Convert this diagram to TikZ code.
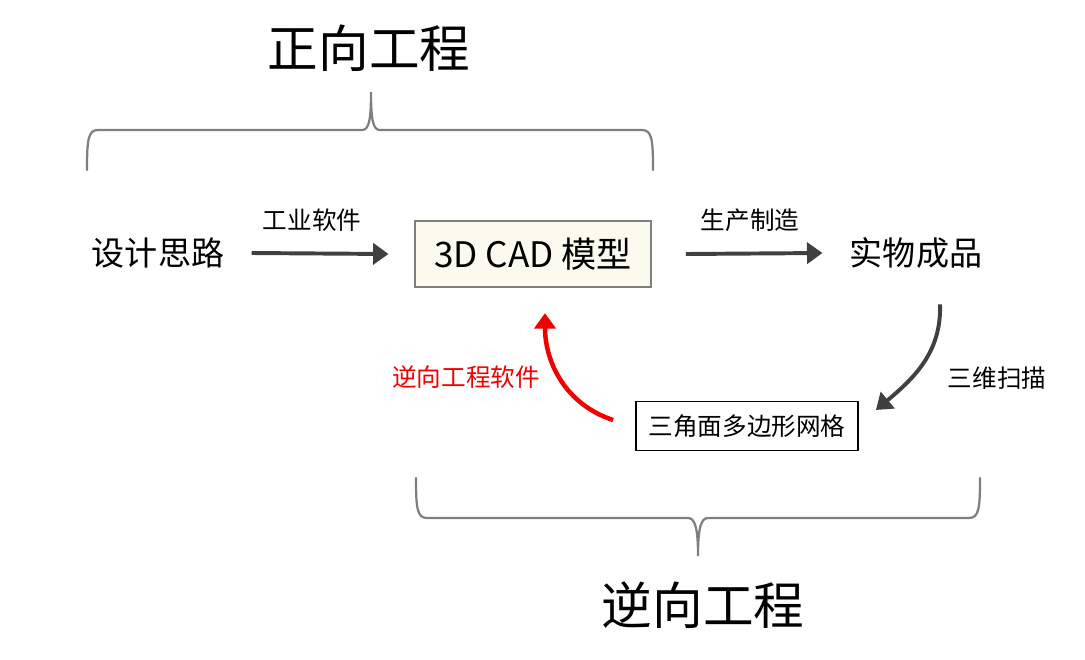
\documentclass[tikz,border=0pt]{standalone}
\usepackage{fontspec}
\setmainfont{Noto Sans CJK SC}
\usetikzlibrary{arrows.meta}

\definecolor{bracegray}{HTML}{7F7F7F}
\definecolor{arrowgray}{HTML}{404040}
\definecolor{cadfill}{HTML}{FAFBEE}
\definecolor{revred}{HTML}{F20000}

\tikzset{
  flow/.style={line width=2.8pt, arrowgray, -{Triangle[length=11pt,width=15pt]}},
  brace/.style={line width=1.6pt, bracegray, line cap=round},
  title/.style={font=\fontsize{36}{40}\selectfont},
  big/.style={font=\fontsize{23.5}{26}\selectfont},
  small/.style={font=\fontsize{17.5}{20}\selectfont},
}

\begin{document}
\begin{tikzpicture}[x=0.025cm,y=-0.025cm]
\useasboundingbox (0,0) rectangle (1085,659);

% forward part
\node[title] (fwd) at (369,48) {正向工程};
\draw[brace] (87,170) .. controls (87,140) and (88,130) .. (98,130) -- (362,130)
  .. controls (369,130) and (371,120) .. (371,92)
  .. controls (371,120) and (373,130) .. (380,130) -- (642,130)
  .. controls (652,130) and (653,140) .. (653,170);

\node[big] (idea) at (158,253) {设计思路};
\node[big,draw=bracegray,line width=1.5pt,fill=cadfill,minimum width=168pt,minimum height=47pt,font=\fontsize{25}{28}\selectfont] (cad) at (533,254) {3D CAD 模型};
\node[big] (prod) at (916,253) {实物成品};

\draw[flow] ([xshift=16pt]idea.east) -- ([xshift=-18pt]cad.west);
\node[small] (softlbl) at (312,220) {工业软件};
\draw[flow] ([xshift=24pt]cad.east) -- ([xshift=-16pt]prod.west);
\node[small] (makelbl) at (750,220) {生产制造};

% reverse part
\node[small,draw,line width=1.2pt,minimum width=158pt,minimum height=35pt] (mesh) at (747,426) {三角面多边形网格};
\draw[flow] ([shift={(24,31)}]prod.south) to[out=-88,in=40] ([shift={(17,-16)}]mesh.east);
\node[small] (scanlbl) at (997,378) {三维扫描};
\draw[flow,revred,line width=3.2pt] ([shift={(-22,-6)}]mesh.west) to[out=162,in=-90] ([shift={(12,25)}]cad.south);
\node[small,revred] (revlbl) at (466,377) {逆向工程软件};

\draw[brace] (416,478) .. controls (416,508) and (417,518) .. (427,518) -- (688,518)
  .. controls (695,518) and (698,528) .. (698,556)
  .. controls (698,528) and (701,518) .. (708,518) -- (969,518)
  .. controls (979,518) and (980,508) .. (980,478);
\node[title] (rev) at (703,605) {逆向工程};
\end{tikzpicture}
\end{document}
